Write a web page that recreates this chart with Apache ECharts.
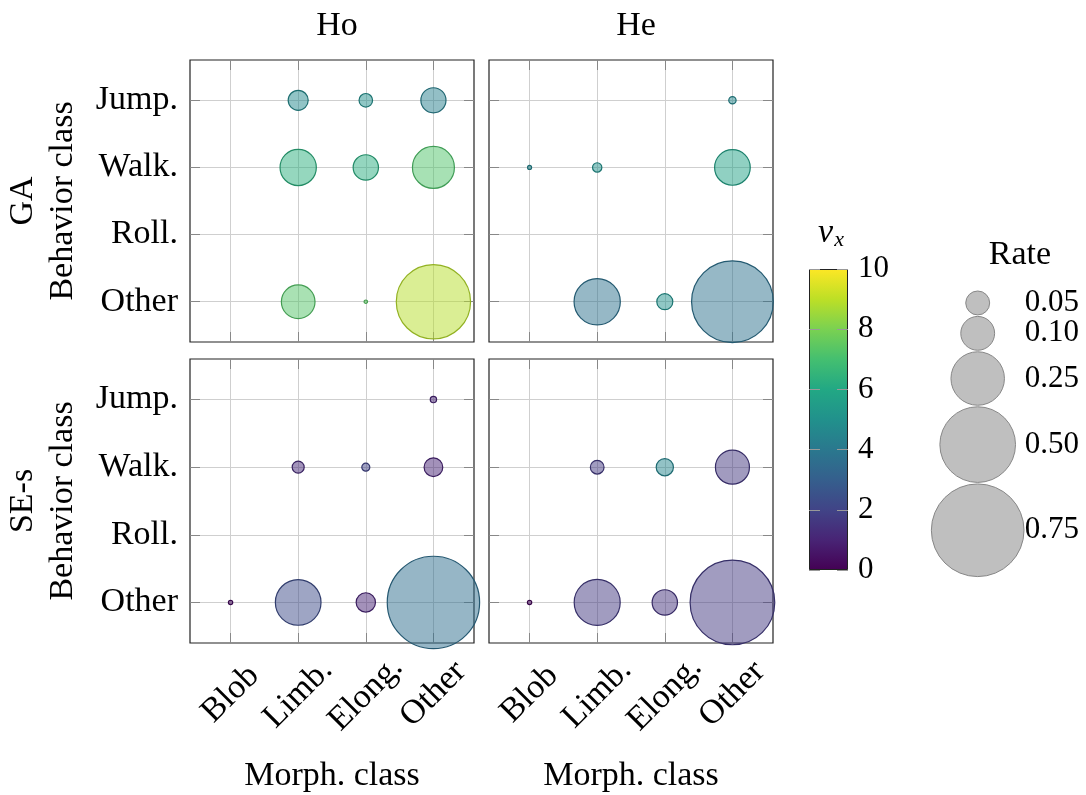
<!DOCTYPE html>
<html>
<head>
<meta charset="utf-8">
<script src="https://cdn.jsdelivr.net/npm/echarts@6/dist/echarts.min.js"></script>
<style>
  html, body { margin: 0; padding: 0; background: #fff; }
  #chart { width: 1086px; height: 795px; }
</style>
</head>
<body>
<div id="chart"></div>
<script>
// categories
const morphClasses = ['Blob', 'Limb.', 'Elong.', 'Other']
const behaviorClasses = ['Jump.', 'Walk.', 'Roll.', 'Other']

// rate per [behavior][morph] (null = no point)
const rateHoGA = [
  [null, 0.035, 0.016, 0.055],
  [null, 0.115, 0.056, 0.154],
  [null, null, null, null],
  [null, 0.099, 0.001, 0.482]
]
const vxHoGA = [
  [null, 4.7, 4.9, 4.3],
  [null, 6.3, 6.2, 7.2],
  [null, null, null, null],
  [null, 7.3, 7.4, 8.9]
]
const rateHeGA = [
  [null, null, null, 0.0047],
  [0.0014, 0.0076, null, 0.111],
  [null, null, null, null],
  [null, 0.187, 0.0224, 0.583]
]
const vxHeGA = [
  [null, null, null, 4.6],
  [4.5, 5.0, null, 5.7],
  [null, null, null, null],
  [null, 3.7, 5.0, 3.7]
]
const rateHoSE = [
  [null, null, null, 0.0035],
  [null, 0.0126, 0.0056, 0.0305],
  [null, null, null, null],
  [0.0016, 0.182, 0.0326, 0.745]
]
const vxHoSE = [
  [null, null, null, 1.0],
  [null, 1.2, 2.0, 1.0],
  [null, null, null, null],
  [0.3, 2.3, 1.0, 3.6]
]
const rateHeSE = [
  [null, null, null, null],
  [null, 0.0164, 0.026, 0.101],
  [null, null, null, null],
  [0.0016, 0.185, 0.056, 0.626]
]
const vxHeSE = [
  [null, null, null, null],
  [null, 1.7, 4.5, 1.6],
  [null, null, null, null],
  [0.2, 1.7, 1.5, 1.7]
]

// legend / colorbar ticks
const rateLegend = [0.05, 0.10, 0.25, 0.50, 0.75]
const vxMin = 0
const vxMax = 10

const viridis = ['#440154', '#482475', '#414487', '#355f8d', '#2a788e', '#21918c',
  '#22a884', '#44bf70', '#7ad151', '#bddf26', '#fde725']

const FONT = 'Liberation Serif'
const FS = 34

const bubbleSize = r => 107 * Math.sqrt(r)

function hexRgb(h) {
  return [1, 3, 5].map(i => parseInt(h.slice(i, i + 2), 16))
}
// darker viridis colour for the circle outline
function edgeColor(v) {
  const t = Math.max(0, Math.min(1, (v - vxMin) / (vxMax - vxMin))) * (viridis.length - 1)
  const i = Math.min(Math.floor(t), viridis.length - 2)
  const f = t - i
  const a = hexRgb(viridis[i])
  const b = hexRgb(viridis[i + 1])
  const c = a.map((x, k) => Math.round((x + (b[k] - x) * f) * 0.8))
  return 'rgb(' + c.join(',') + ')'
}

const panels = [
  { rate: rateHoGA, vx: vxHoGA, left: 190, top: 60, height: 282, yName: 'GA\nBehavior class' },
  { rate: rateHeGA, vx: vxHeGA, left: 489, top: 60, height: 282 },
  { rate: rateHoSE, vx: vxHoSE, left: 190, top: 359, height: 284, yName: 'SE-s\nBehavior class', xName: true },
  { rate: rateHeSE, vx: vxHeSE, left: 489, top: 359, height: 284, xName: true }
]

const catTicks = [0, 1, 2, 3]
const grid = []
const xAxis = []
const yAxis = []
const series = []

panels.forEach((p, i) => {
  grid.push({
    left: p.left, top: p.top, width: 284, height: p.height,
    show: true, borderColor: '#222', borderWidth: 1.2
  })
  const tick = { show: true, inside: true, length: 10, customValues: catTicks, lineStyle: { color: '#888' } }
  const split = { show: true, lineStyle: { color: '#cfcfcf', width: 1 } }
  const line = { show: false, onZero: false }
  xAxis.push({
    type: 'value', gridIndex: i, min: -0.6, max: 3.6, position: 'bottom',
    axisLine: line, axisTick: tick, splitLine: split,
    axisLabel: {
      show: !!p.xName, customValues: catTicks, rotate: 45, align: 'center', verticalAlign: 'middle',
      margin: 51, fontSize: FS, color: '#000', fontFamily: FONT,
      formatter: v => morphClasses[v]
    },
    name: p.xName ? 'Morph. class' : '', nameLocation: 'middle', nameGap: 116,
    nameTextStyle: { fontSize: FS, color: '#000', fontFamily: FONT }
  })
  xAxis.push({
    type: 'value', gridIndex: i, min: -0.6, max: 3.6, position: 'top',
    axisLine: line, axisTick: tick, splitLine: { show: false }, axisLabel: { show: false }
  })
  yAxis.push({
    type: 'value', gridIndex: i, min: -0.6, max: 3.6, inverse: true, position: 'left',
    axisLine: line, axisTick: tick, splitLine: split,
    axisLabel: {
      show: !!p.yName, customValues: catTicks, margin: 12, fontSize: FS, color: '#000', fontFamily: FONT,
      formatter: v => behaviorClasses[v]
    },
    name: p.yName || '', nameLocation: 'middle', nameRotate: 90, nameGap: 107,
    nameTextStyle: { fontSize: FS, lineHeight: 40, color: '#000', fontFamily: FONT }
  })
  yAxis.push({
    type: 'value', gridIndex: i, min: -0.6, max: 3.6, inverse: true, position: 'right',
    axisLine: line, axisTick: tick, splitLine: { show: false }, axisLabel: { show: false }
  })

  const data = []
  p.rate.forEach((row, b) => {
    row.forEach((r, m) => {
      if (r == null) return
      const v = p.vx[b][m]
      data.push({ value: [m, b, r, v], itemStyle: { borderColor: edgeColor(v) } })
    })
  })
  series.push({
    type: 'scatter', xAxisIndex: 2 * i, yAxisIndex: 2 * i, clip: false,
    symbolSize: val => bubbleSize(val[2]),
    itemStyle: { borderWidth: 1.2, opacity: 1 },
    data: data,
    z: 3
  })
})

// colourbar
grid.push({ left: 809, top: 269, width: 39, height: 301 })
xAxis.push({ type: 'category', gridIndex: 4, data: ['vx'], show: false })
const cbTick = { show: true, inside: true, length: 11, lineStyle: { color: '#999' } }
yAxis.push({
  type: 'value', gridIndex: 4, min: vxMin, max: vxMax, interval: 2, position: 'right', z: 10,
  axisLine: { show: false, onZero: false }, splitLine: { show: false }, axisTick: cbTick,
  axisLabel: { margin: 10, fontSize: 31, color: '#000', fontFamily: FONT }
})
yAxis.push({
  type: 'value', gridIndex: 4, min: vxMin, max: vxMax, interval: 2, position: 'left', z: 10,
  axisLine: { show: false, onZero: false }, splitLine: { show: false }, axisLabel: { show: false },
  axisTick: cbTick
})
series.push({
  type: 'bar', xAxisIndex: 8, yAxisIndex: 8, barWidth: '100%', silent: true,
  data: [vxMax],
  itemStyle: {
    borderColor: '#222', borderWidth: 1,
    color: {
      type: 'linear', x: 0, y: 1, x2: 0, y2: 0,
      colorStops: viridis.map((c, k) => ({ offset: k / (viridis.length - 1), color: c }))
    }
  }
})

// rate legend: circles stacked, each touching the previous one
grid.push({ left: 927.7, top: 291, width: 100, height: 300 })
xAxis.push({ type: 'value', gridIndex: 5, min: -1, max: 1, show: false })
yAxis.push({ type: 'value', gridIndex: 5, min: 0, max: 300, inverse: true, show: false })
let acc = 0
const legendData = rateLegend.map(r => {
  const d = bubbleSize(r)
  const cy = acc + d / 2
  acc += d + 1.5
  return [0, cy, r]
})
series.push({
  type: 'scatter', xAxisIndex: 9, yAxisIndex: 10, silent: true,
  symbolSize: val => bubbleSize(val[2]),
  itemStyle: { color: '#bfbfbf', borderColor: '#878787', borderWidth: 1, opacity: 1 },
  label: {
    show: true, position: 'inside', align: 'left', offset: [47, 0],
    fontSize: 31, color: '#000', fontFamily: FONT,
    textBorderWidth: 0, textBorderColor: 'transparent',
    formatter: p => p.value[2].toFixed(2)
  },
  data: legendData
})

const plainText = { fontSize: FS, fontWeight: 'normal', color: '#000', fontFamily: FONT }
const chart = echarts.init(document.getElementById('chart'))
chart.setOption({
  animation: false,
  backgroundColor: '#fff',
  textStyle: { fontFamily: FONT },
  title: [
    { text: 'Ho', left: 332, top: 4, textAlign: 'center', textStyle: plainText },
    { text: 'He', left: 631, top: 4, textAlign: 'center', textStyle: plainText },
    { text: 'Rate', left: 1015, top: 233, textAlign: 'center', textStyle: plainText },
    {
      text: '{v|v}{x|x}', left: 826, top: 210, textAlign: 'center',
      textStyle: {
        fontWeight: 'normal',
        rich: {
          v: { fontSize: FS, fontStyle: 'italic', fontWeight: 'normal', color: '#000', fontFamily: FONT },
          x: { fontSize: 22, fontStyle: 'italic', fontWeight: 'normal', color: '#000', fontFamily: FONT, padding: [14, 0, 0, 1] }
        }
      }
    }
  ],
  visualMap: {
    type: 'continuous', show: false, min: vxMin, max: vxMax, dimension: 3,
    seriesIndex: [0, 1, 2, 3],
    inRange: { color: viridis, colorAlpha: 0.5 }
  },
  grid: grid,
  xAxis: xAxis,
  yAxis: yAxis,
  series: series
})
</script>
</body>
</html>
